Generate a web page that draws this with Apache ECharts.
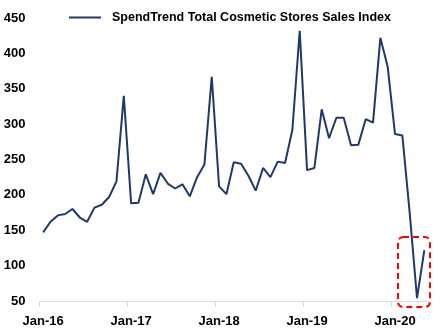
<!DOCTYPE html>
<html>
<head>
<meta charset="utf-8">
<script src="https://cdn.jsdelivr.net/npm/echarts@6/dist/echarts.min.js"></script>
<style>html,body{margin:0;padding:0;background:#fff;}#c{width:440px;height:332px;}</style>
</head>
<body>
<div id="c"></div>
<script>
const months = ['Jan','Feb','Mar','Apr','May','Jun','Jul','Aug','Sep','Oct','Nov','Dec'];
const years = ['16','17','18','19','20'];
const categories = [];
years.forEach(y => months.forEach(m => categories.push(m + '-' + y)));
categories.length = 53; // Jan-16 .. May-20

const seriesName = 'SpendTrend Total Cosmetic Stores Sales Index';
const values2016 = [147,162,171,173,180,168,162,182,186,197,219,340];
const values2017 = [188,189,229,201,231,216,209,215,198,225,243,367];
const values2018 = [212,201,246,244,227,206,238,225,247,245,292,432];
const values2019 = [235,238,321,280,309,309,270,271,307,302,422,381];
const values2020 = [286,284,175,54,122];
const values = [].concat(values2016, values2017, values2018, values2019, values2020);

const yTicks = {min: 50, max: 450, interval: 50};

const font = 'Liberation Sans, Arial, sans-serif';
const chart = echarts.init(document.getElementById('c'), null, {renderer: 'canvas'});
chart.setOption({
  animation: false,
  grid: {left: 39.5, right: 12, top: 18, bottom: 31, containLabel: false},
  legend: {
    data: [{name: seriesName, icon: 'rect'}],
    left: 64, top: 6,
    itemWidth: 32, itemHeight: 2,
    textStyle: {fontFamily: font, fontWeight: 'bold', fontSize: 12.5, color: '#000', padding: [0,0,0,6]}
  },
  xAxis: {
    type: 'category',
    data: categories,
    boundaryGap: true,
    axisLine: {lineStyle: {color: '#d9d9d9', width: 1}},
    axisTick: {show: true, interval: 11, length: 6, lineStyle: {color: '#d9d9d9'}},
    axisLabel: {interval: 11, fontFamily: font, fontWeight: 'bold', fontSize: 13, color: '#000', margin: 14},
    splitLine: {show: false}
  },
  yAxis: {
    type: 'value',
    min: yTicks.min, max: yTicks.max, interval: yTicks.interval,
    axisLine: {show: false},
    axisTick: {show: false},
    splitLine: {show: false},
    axisLabel: {fontFamily: font, fontWeight: 'bold', fontSize: 13, color: '#000', margin: 14}
  },
  series: [{
    name: seriesName,
    type: 'line',
    data: values,
    symbol: 'none',
    lineStyle: {color: '#1F3A68', width: 2},
    itemStyle: {color: '#1F3A68'}
  }],
  graphic: [{
    type: 'rect',
    shape: {x: 398, y: 237, width: 32, height: 70, r: 5},
    style: {fill: 'none', stroke: '#ff0000', lineWidth: 2, lineDash: [6, 4]},
    z: 100
  }]
});
</script>
</body>
</html>
